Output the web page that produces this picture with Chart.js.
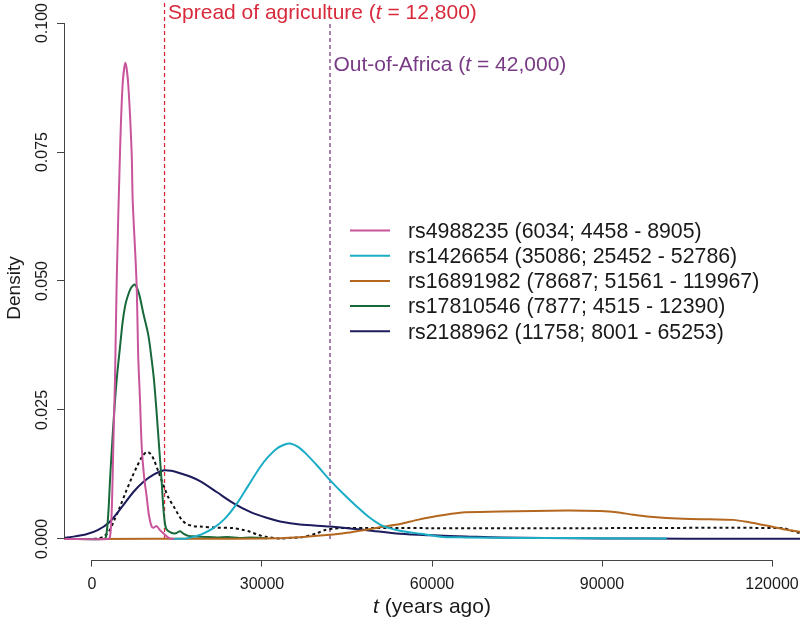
<!DOCTYPE html>
<html><head><meta charset="utf-8">
<script src="https://cdn.jsdelivr.net/npm/chart.js@4/dist/chart.umd.min.js"></script>
<style>html,body{margin:0;padding:0;background:#fff}#wrap{width:800px;height:620px}</style>
</head><body><div id="wrap"><canvas id="c" width="800" height="620"></canvas></div>
<script>
// ---------- data ----------
const xTicks = [0, 30000, 60000, 90000, 120000];
const xTickLabels = ['0', '30000', '60000', '90000', '120000'];
const yTicks = [0, 0.025, 0.05, 0.075, 0.1];
const yTickLabels = ['0.000', '0.025', '0.050', '0.075', '0.100'];
const yTitle = 'Density';

const seriesLabels = [
  'rs4988235 (6034; 4458 - 8905)',
  'rs1426654 (35086; 25452 - 52786)',
  'rs16891982 (78687; 51561 - 119967)',
  'rs17810546 (7877; 4515 - 12390)',
  'rs2188962 (11758; 8001 - 65253)'
];

const tPink = [-5000, 2800, 3180, 3470, 3760, 4060, 4360, 4940, 5400, 5900, 6400, 7000, 7180, 7850, 8170, 8470, 8770, 9200, 9650, 10060, 10530, 10900, 11410, 12000, 12590, 13200, 13770, 14500];
const dPink = [0, 0, 0.0004, 0.005, 0.018, 0.031, 0.050, 0.0748, 0.088, 0.0923, 0.088, 0.0748, 0.0657, 0.050, 0.035, 0.027, 0.018, 0.012, 0.0082, 0.0045, 0.0024, 0.0022, 0.0025, 0.0017, 0.0011, 0.0005, 0.0001, 0];

const tCyan = [14000, 16700, 17880, 19500, 21410, 23500, 25530, 27500, 29650, 31000, 32590, 34000, 34940, 36300, 37880, 40000, 42000, 44300, 46710, 48800, 50820, 52500, 54350, 58000, 61940, 66000, 75000, 85000, 95000, 101400];
const dCyan = [0, 0.0001, 0.0004, 0.001, 0.0021, 0.004, 0.0068, 0.0102, 0.0139, 0.0158, 0.0175, 0.0183, 0.0185, 0.0179, 0.0164, 0.0139, 0.0114, 0.0088, 0.0063, 0.0043, 0.0028, 0.0021, 0.0016, 0.0010, 0.0004, 0.0003, 0.0002, 0.0002, 0.0001, 0.0001];

const tOrange = [1000, 20000, 30230, 36000, 42000, 45000, 47880, 51000, 54350, 57000, 60230, 64940, 72000, 83770, 89650, 92590, 95500, 98470, 104350, 109000, 113170, 116120, 119000, 122000, 125000];
const dOrange = [0, 0.00005, 0.0001, 0.0003, 0.0008, 0.0012, 0.0017, 0.0023, 0.0029, 0.0036, 0.0043, 0.0051, 0.0053, 0.0055, 0.0054, 0.0052, 0.0047, 0.0043, 0.0039, 0.0038, 0.0037, 0.0032, 0.0026, 0.0019, 0.0014];

const tGreen = [-5000, 2000, 2470, 2880, 3180, 3760, 4350, 4940, 5400, 5820, 6230, 6900, 7590, 8300, 9060, 9940, 10500, 10940, 11410, 11900, 12300, 12590, 12900, 13180, 14000, 14800, 15530, 16200, 17000, 18200, 20000, 22000, 24000, 26000, 28000, 30000, 30900];
const dGreen = [0, 0, 0.0004, 0.005, 0.0114, 0.0221, 0.0308, 0.0372, 0.042, 0.045, 0.0468, 0.0487, 0.0493, 0.0475, 0.0437, 0.0395, 0.035, 0.0308, 0.0244, 0.017, 0.0110, 0.006, 0.0028, 0.0018, 0.0012, 0.0011, 0.0015, 0.0010, 0.0006, 0.0005, 0.0004, 0.0003, 0.0004, 0.0002, 0.0003, 0.0002, 0.0001];

const tNavy = [-5000, -3000, -1000, 1000, 3000, 5000, 7300, 9000, 10940, 12700, 14000, 15400, 17300, 19060, 22000, 25000, 28000, 30820, 33180, 36700, 42000, 48470, 54350, 60180, 66000, 72000, 80000, 90000, 105000, 125000];
const dNavy = [0.0002, 0.0005, 0.0009, 0.0017, 0.0032, 0.0058, 0.0091, 0.0110, 0.0125, 0.0133, 0.0132, 0.0128, 0.0121, 0.0112, 0.0091, 0.0069, 0.0052, 0.0041, 0.0034, 0.0028, 0.0024, 0.0017, 0.0010, 0.0007, 0.0005, 0.0003, 0.0002, 0.0001, 0.00005, 0.00002];

const tDotted = [-5000, 0, 1000, 2000, 3000, 4000, 5000, 6000, 7000, 8000, 9000, 9770, 10400, 10940, 11800, 12710, 13500, 14470, 15300, 15940, 16710, 17880, 19060, 22000, 24940, 26500, 27880, 29300, 30820, 33180, 34940, 37290, 39650, 41000, 42590, 43770, 60000, 90000, 122000, 123500, 125000];
const dDotted = [0, 0, 0.0001, 0.0004, 0.0015, 0.0038, 0.0064, 0.0092, 0.0118, 0.0142, 0.0162, 0.0169, 0.0164, 0.0153, 0.0128, 0.0101, 0.0080, 0.0062, 0.0046, 0.0036, 0.0029, 0.0025, 0.0024, 0.0022, 0.0021, 0.0018, 0.0014, 0.0008, 0.0004, 0.0001, 0.0002, 0.0004, 0.0011, 0.0017, 0.0020, 0.0021, 0.0021, 0.0021, 0.0021, 0.0016, 0.0011];

const eventT = [12800, 42000];
const eventTop = [0.104, 0.1];
const eventPrefix = ['Spread of agriculture (', 'Out-of-Africa ('];
const eventSuffix = [' = 12,800)', ' = 42,000)'];

// ---------- styles ----------
const seriesColors = ['#C8559B', '#1BADC6', '#B4671F', '#17693A', '#1C1B5B'];
const eventColors = ['#D82A3C', '#7A3B86'];
const FONT = "'Liberation Sans', Arial, Helvetica, sans-serif";
Chart.defaults.font.family = FONT;

function pts(t, d) { return t.map((v, i) => ({ x: v, y: d[i] })); }

const seriesT = [tPink, tCyan, tOrange, tGreen, tNavy];
const seriesD = [dPink, dCyan, dOrange, dGreen, dNavy];

const datasets = seriesLabels.map((lab, i) => ({
  label: lab,
  data: pts(seriesT[i], seriesD[i]),
  borderColor: seriesColors[i],
  borderWidth: 2,
  pointRadius: 0,
  fill: false,
  tension: 0.3
}));
datasets.push({
  label: 'combined',
  data: pts(tDotted, dDotted),
  borderColor: '#111111',
  borderWidth: 2,
  borderDash: [3, 3],
  pointRadius: 0,
  fill: false,
  tension: 0.3
});
eventT.forEach((t, i) => {
  datasets.push({
    label: 'event' + i,
    data: [{ x: t, y: 0 }, { x: t, y: eventTop[i] }],
    borderColor: eventColors[i],
    backgroundColor: eventColors[i],
    borderWidth: 1.3,
    borderDash: [4, 3],
    pointRadius: 0,
    fill: false
  });
});

const overlay = {
  id: 'overlay',
  afterDraw(chart) {
    const ctx = chart.ctx;
    const xs = chart.scales.x, ys = chart.scales.y;
    const area = chart.chartArea;
    ctx.save();
    // axis lines spanning tick range (R style)
    ctx.strokeStyle = '#444';
    ctx.lineWidth = 1;
    ctx.beginPath();
    const yb = Math.round(area.bottom) + 0.5;
    ctx.moveTo(xs.getPixelForValue(xTicks[0]), yb);
    ctx.lineTo(xs.getPixelForValue(xTicks[xTicks.length - 1]), yb);
    const xl = Math.round(area.left) + 0.5;
    ctx.moveTo(xl, ys.getPixelForValue(yTicks[0]));
    ctx.lineTo(xl, ys.getPixelForValue(yTicks[yTicks.length - 1]));
    ctx.stroke();

    // y axis title
    ctx.fillStyle = '#1a1a1a';
    ctx.save();
    ctx.translate(20, 288);
    ctx.rotate(-Math.PI / 2);
    ctx.font = '19px ' + FONT;
    ctx.textAlign = 'center';
    ctx.textBaseline = 'alphabetic';
    ctx.fillText(yTitle, 0, 0);
    ctx.restore();

    // x axis title with italic t
    ctx.textBaseline = 'alphabetic';
    const f1 = 'italic 21px ' + FONT, f2 = '21px ' + FONT;
    ctx.font = f1; const w1 = ctx.measureText('t').width;
    ctx.font = f2; const w2 = ctx.measureText(' (years ago)').width;
    const cx = (area.left + area.right) / 2;
    let x0 = cx - (w1 + w2) / 2;
    ctx.font = f1; ctx.fillText('t', x0, 612.5);
    ctx.font = f2; ctx.fillText(' (years ago)', x0 + w1, 612.5);

    // event annotations
    const baseY = [18.5, 70.5];
    eventT.forEach((t, i) => {
      let x = xs.getPixelForValue(t) + 3.5;
      ctx.fillStyle = eventColors[i];
      ctx.font = f2; ctx.fillText(eventPrefix[i], x, baseY[i]);
      x += ctx.measureText(eventPrefix[i]).width;
      ctx.font = f1; ctx.fillText('t', x, baseY[i]);
      x += ctx.measureText('t').width;
      ctx.font = f2; ctx.fillText(eventSuffix[i], x, baseY[i]);
    });

    // legend
    ctx.font = '21.3px ' + FONT;
    ctx.textBaseline = 'middle';
    seriesLabels.forEach((lab, i) => {
      const y = 230.5 + i * 25.2;
      ctx.strokeStyle = seriesColors[i];
      ctx.lineWidth = 2;
      ctx.beginPath(); ctx.moveTo(350, y); ctx.lineTo(390, y); ctx.stroke();
      ctx.fillStyle = '#1a1a1a';
      ctx.fillText(lab, 408, y + 1.5);
    });
    ctx.restore();
  }
};

new Chart(document.getElementById('c'), {
  type: 'line',
  data: { datasets },
  options: {
    responsive: false,
    animation: false,
    devicePixelRatio: 1,
    layout: { padding: { top: 2.4, left: 0, right: 0, bottom: 0 } },
    plugins: { legend: { display: false }, tooltip: { enabled: false } },
    scales: {
      x: {
        type: 'linear', position: 'bottom',
        min: -4941, max: 124941,
        afterBuildTicks: s => { s.ticks = xTicks.map(v => ({ value: v })); },
        afterFit: s => { s.height = 60.4; s.paddingLeft = 0; s.paddingRight = 0; },
        border: { display: false },
        grid: { drawOnChartArea: false, drawTicks: true, tickLength: 7, color: '#444', lineWidth: 1 },
        ticks: { font: { size: 16 }, color: '#1a1a1a', padding: 8, maxRotation: 0, autoSkip: false,
                 callback: (v, i) => xTickLabels[i] }
      },
      y: {
        type: 'linear', position: 'left',
        min: -0.004, max: 0.104,
        afterBuildTicks: s => { s.ticks = yTicks.map(v => ({ value: v })); },
        afterFit: s => { s.width = 64; s.paddingTop = 0; s.paddingBottom = 0; },
        border: { display: false },
        grid: { drawOnChartArea: false, drawTicks: true, tickLength: 7, color: '#444', lineWidth: 1 },
        ticks: { font: { size: 16 }, color: '#1a1a1a', padding: -6, minRotation: 90, maxRotation: 90,
                 crossAlign: 'center', autoSkip: false, callback: (v, i) => yTickLabels[i] }
      }
    }
  },
  plugins: [overlay]
});
</script>
</body></html>
